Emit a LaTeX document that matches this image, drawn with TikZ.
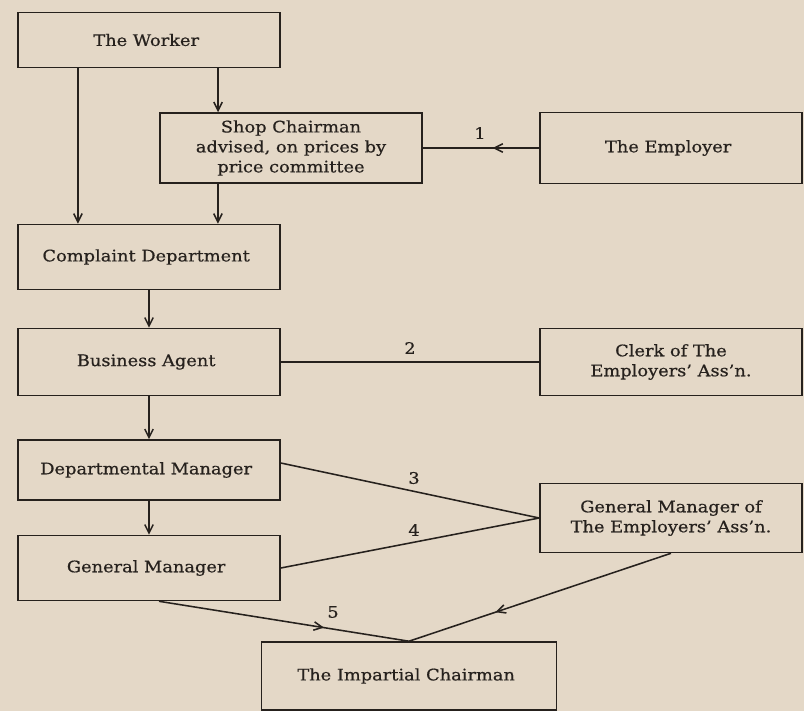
\documentclass[tikz,border=0pt]{standalone}
\usepackage{fontspec}
\setmainfont[FakeStretch=1.12, FakeBold=0.6]{DejaVu Serif}
\usetikzlibrary{arrows.meta,decorations.markings}
\definecolor{paper}{RGB}{228,216,199}
\definecolor{ink}{RGB}{38,33,29}

\begin{document}
\begin{tikzpicture}[x=0.025cm, y=-0.025cm, ink, line width=1.1pt,
        font=\fontsize{11.3}{14.2}\selectfont,
        >={Straight Barb[length=6pt,width=6pt]},
        box/.style={draw, align=center, minimum width=6.55cm, inner sep=2pt},
        midarrow/.style={postaction={decorate}, decoration={markings,
            mark=at position #1 with {\arrow{Straight Barb[length=6pt,width=6pt]}}}}
    ]
        \fill[paper] (0,0) rectangle (804,711);
        \useasboundingbox (0,0) rectangle (804,711);
        \node[box, minimum height=1.375cm] (WORKER) at (149,40) {
            The Worker
        };
        \node[box, minimum height=1.75cm] (SHOP) at (291,148) {
            Shop Chairman\\advised, on prices by\\price committee
        };
        \node[box, minimum height=1.775cm] (EMPLOYER) at (671,148) {
            The Employer
        };
        \node[box, minimum height=1.625cm] (COMPLAINT) at (149,257) {
            Complaint Department
        };
        \node[box, minimum height=1.675cm] (BUSINESS) at (149,362) {
            Business Agent
        };
        \node[box, minimum height=1.675cm] (CLERK) at (671,362) {
            Clerk of The\\Employers' Ass'n.
        };
        \node[box, minimum height=1.5cm] (DEPT) at (149,470) {
            Departmental Manager
        };
        \node[box, minimum height=1.625cm] (GENMGR) at (149,568) {
            General Manager
        };
        \node[box, minimum height=1.725cm] (GMEA) at (671,518) {
            General Manager of\\The Employers' Ass'n.
        };
        \node[box, minimum width=7.375cm, minimum height=1.7cm] (IMPARTIAL) at (409,676) {
            The Impartial Chairman
        };
        \node (L1) at (480,133) {1};
        \node (L2) at (410,348) {2};
        \node (L3) at (414,478) {3};
        \node (L4) at (414,530) {4};
        \node (L5) at (333,612) {5};
        \draw[->] ([xshift=-1.775cm]WORKER.south) -- ([xshift=-1.775cm]WORKER.south |- COMPLAINT.north);
        \draw[->] ([xshift=1.725cm]WORKER.south) -- ([xshift=1.725cm]WORKER.south |- SHOP.north);
        \draw[->] ([xshift=-1.825cm]SHOP.south) -- ([xshift=-1.825cm]SHOP.south |- COMPLAINT.north);
        \draw[midarrow=0.4] (EMPLOYER.west) -- (SHOP.east);
        \draw[->] (COMPLAINT) -- (BUSINESS);
        \draw (BUSINESS.east) -- (CLERK.west);
        \draw[->] (BUSINESS) -- (DEPT);
        \draw[->] (DEPT) -- (GENMGR);
        \draw ([yshift=0.175cm]DEPT.east) -- (GMEA.west);
        \draw (GENMGR.east) -- (GMEA.west);
        \draw[midarrow=0.67] (GMEA.south) -- (IMPARTIAL.north);
        \draw[midarrow=0.66] ([xshift=0.25cm]GENMGR.south) -- (IMPARTIAL.north);
\end{tikzpicture}
\end{document}
